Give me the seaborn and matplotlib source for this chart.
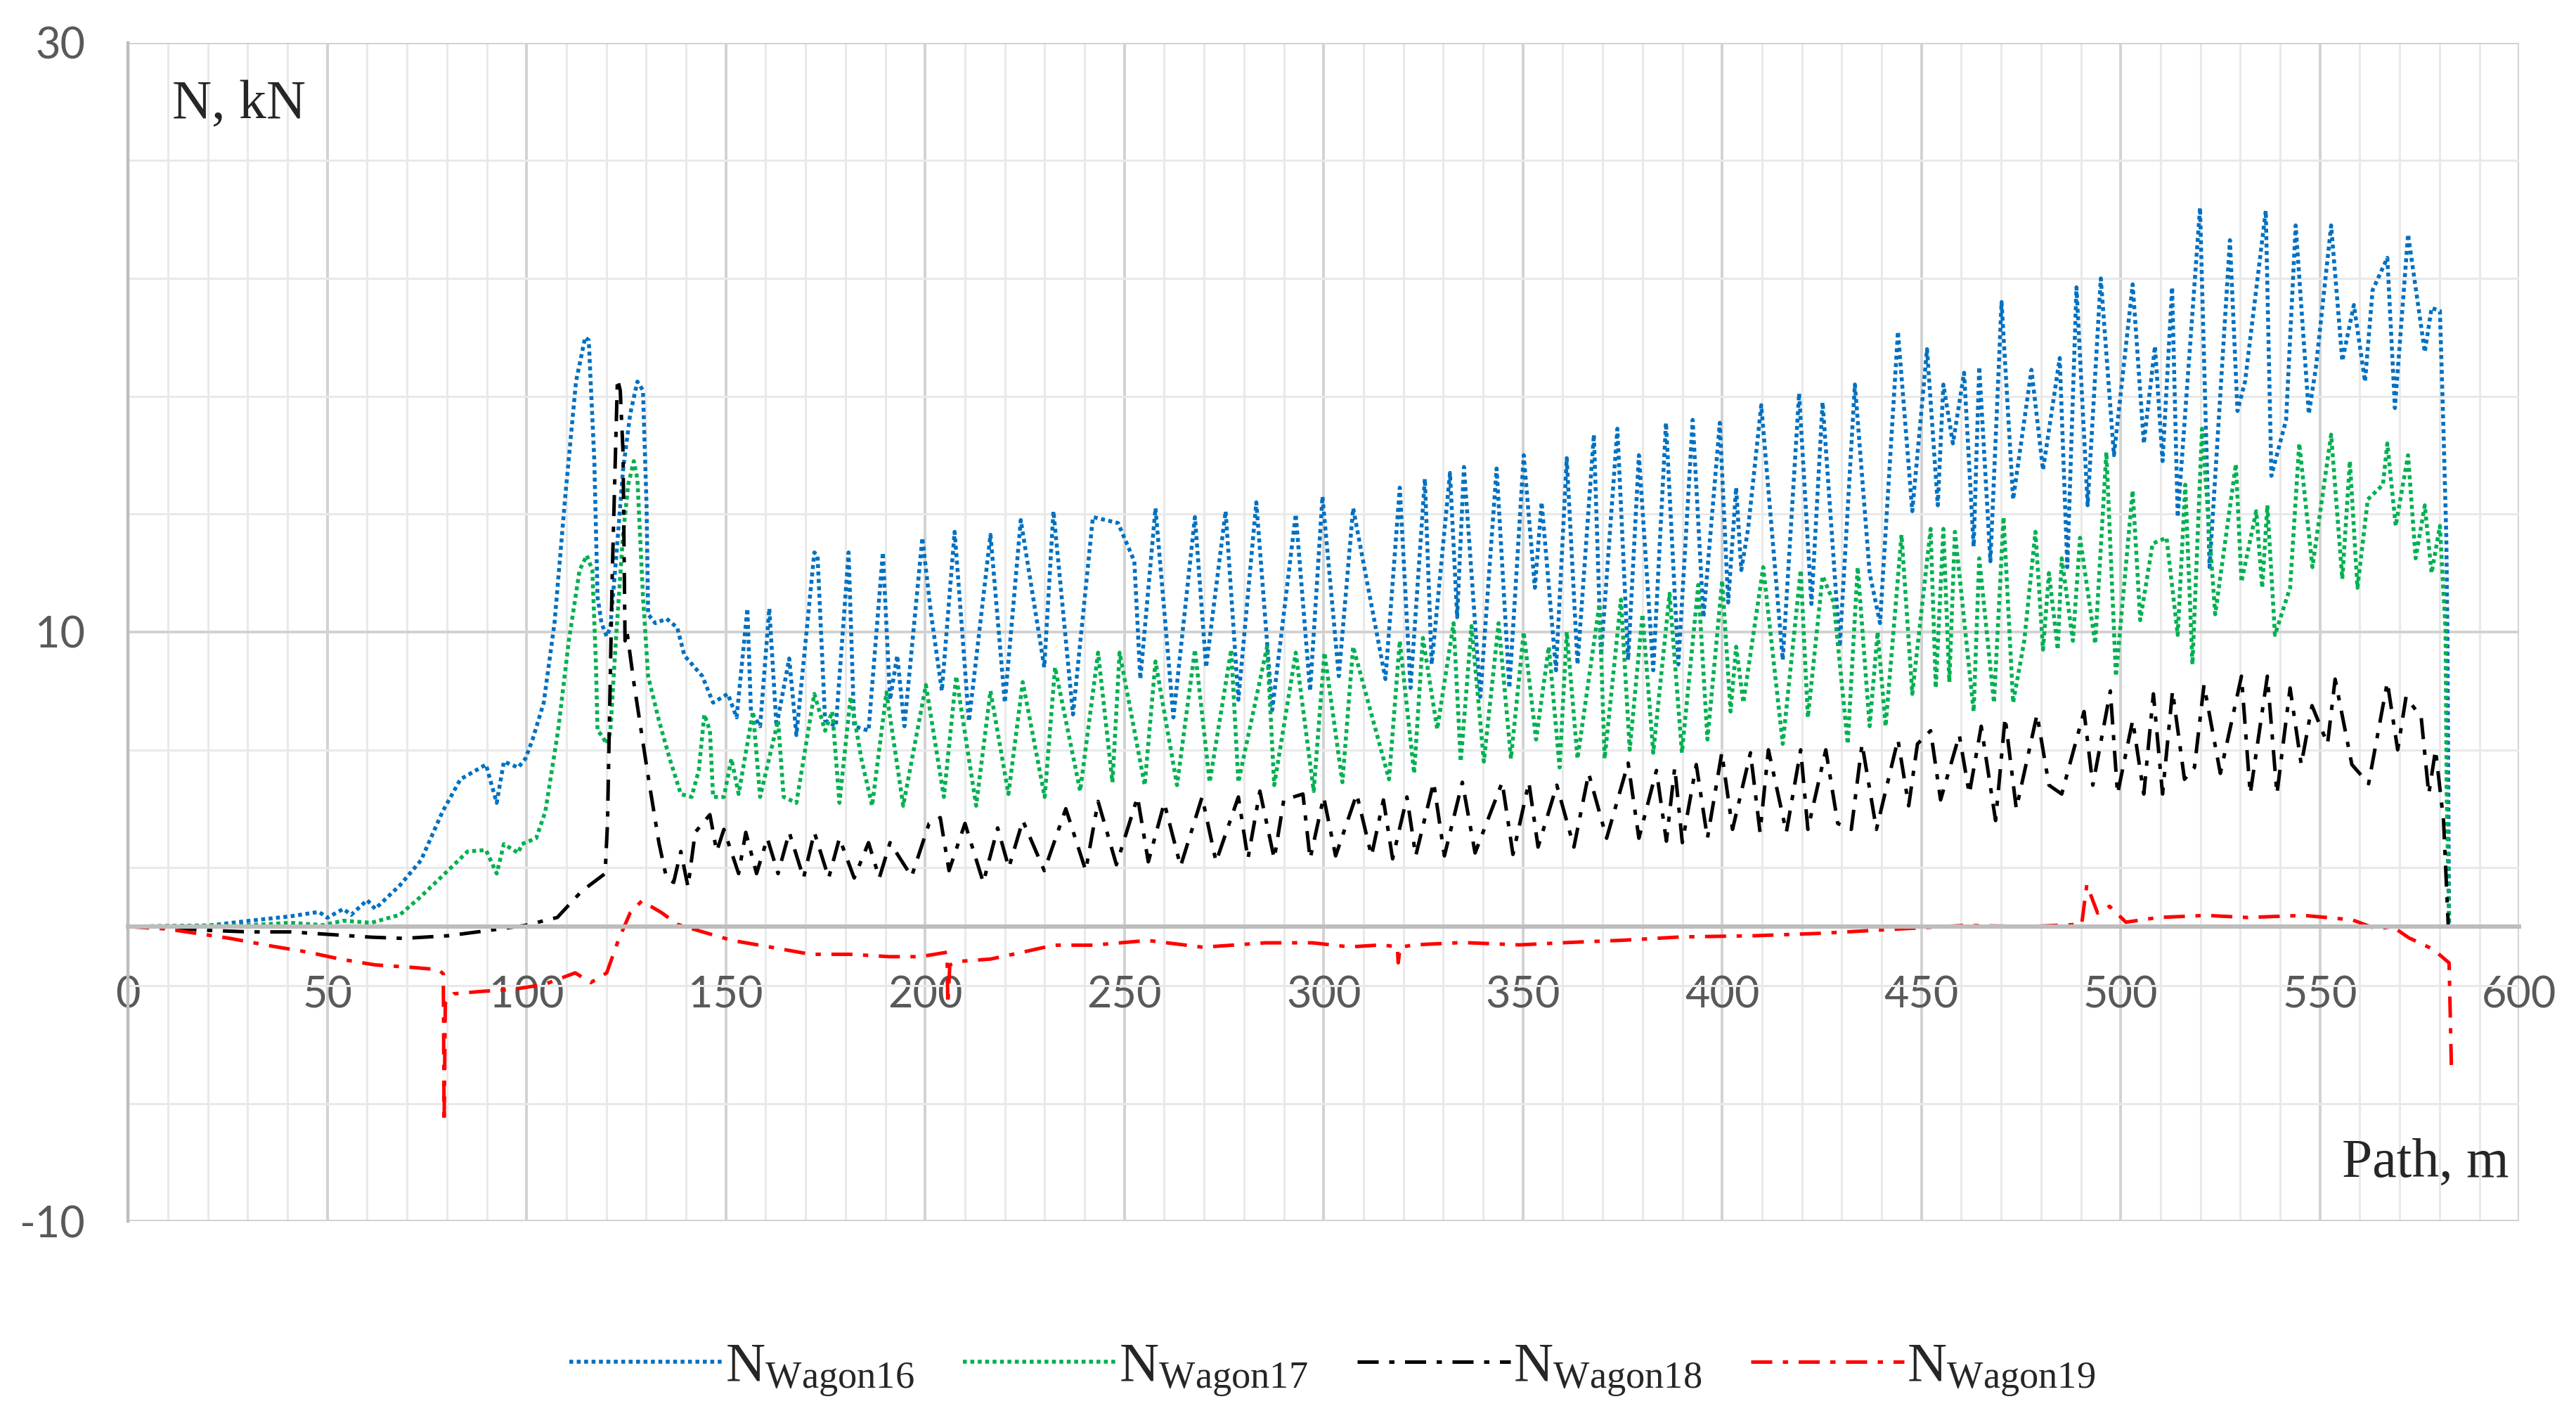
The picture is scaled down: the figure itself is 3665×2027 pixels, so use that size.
import numpy as np
import pandas as pd
import seaborn as sns
import matplotlib.pyplot as plt
from matplotlib.ticker import MultipleLocator, FixedLocator

# values: path (m) and force (kN)
blue_x = [0, 20.5, 30.6, 40.8, 47.9, 50, 54, 56, 60, 62, 68.2, 73.5, 78.9, 83.4, 89.8, 92.5, 94.3, 97.9, 99.7,
          101.5, 104.3, 107, 109.7, 112.4, 114.7, 115.6, 117, 117.8, 118.8, 120.1, 121, 122.4, 124.2, 126, 127.8,
          129.2, 130.1, 130.5, 132.3, 135.1, 137.8, 139.6, 144.1, 146.8, 150.5, 152.7, 155.4, 156.3, 158.6, 160.9,
          162.7, 165.9, 167.7, 172.2, 173.0, 174.9, 177.6, 180.8, 182.2, 185.8, 189.4, 191.2, 193, 194.8, 199.3,
          201.5, 204.2, 207.4, 211, 216.4, 220, 224, 229.9, 232.2, 237.1, 242.1, 248.4, 252.5, 254, 257.8, 262.3,
          267.7, 270.5, 275.4, 278.6, 283.1, 287.1, 293, 296.6, 299.7, 303.8, 307.4, 315.5, 319.1, 321.8, 325.4,
          327.1, 331.7, 333.5, 335.2, 339.3, 343.4, 346.6, 350.2, 353, 354.7, 358.3, 361, 363.7, 367.8, 369.6,
          373.7, 376.4, 379.1, 382.7, 385.9, 389, 392.6, 395.3, 399.4, 401.5, 403.5, 404.8, 406.5, 409.8, 415.2,
          419.3, 422.4, 425.2, 429.5, 433.3, 437, 439.6, 444.1, 447.7, 451.4, 454.1, 455.5, 457.9, 460.7, 463.1,
          464.5, 467.3, 470.1, 473, 477.6, 480.5, 484.7, 486.6, 488.9, 491.7, 495, 498.3, 503, 505.8, 508.6, 510.5,
          512.9, 514.3, 519.9, 522.3, 524.5, 527.4, 529.3, 531.2, 536.4, 537.8, 541.5, 543.9, 547.2, 549, 552.8,
          555.6, 558.5, 561.3, 563.2, 566.9, 568.8, 572.1, 576.3, 578, 580.1, 581, 581.7, 582, 582.4]
blue_y = [0, 0.04, 0.2, 0.35, 0.5, 0.3, 0.6, 0.4, 0.9, 0.6, 1.4, 2.25, 3.9, 5.0, 5.5, 4.2, 5.6, 5.4, 5.7,
          6.35, 7.6, 10.3, 14.6, 18.5, 20.0, 19.9, 15.8, 11.2, 10.3, 9.85, 10.15, 12.4, 15.5, 17.4, 18.5,
          18.2, 14.3, 10.6, 10.3, 10.45, 10.15, 9.2, 8.5, 7.6, 7.9, 7.1, 10.8, 7.3, 6.8, 10.8,
          6.8, 9.1, 6.5, 12.7, 12.6, 7.0, 6.8, 12.7, 6.8, 6.65, 12.7, 7.7, 9.2, 6.8, 13.2,
          10.6, 8.0, 13.4, 6.97, 13.3, 7.6, 13.8, 8.8, 14.1, 7.2, 13.9, 13.7, 12.4, 8.4, 14.2, 7.1,
          13.9, 8.8, 14.1, 7.7, 14.4, 7.35, 14.0, 8.0, 14.6, 8.5, 14.2, 8.4, 14.9, 8.1, 15.2,
          8.9, 15.4, 10.5, 15.6, 7.8, 15.55, 8.1, 16.0, 11.5, 14.4, 8.7, 15.9, 8.9, 16.7, 9.2,
          16.9, 9.05, 16.0, 8.7, 17.1, 8.9, 17.2, 10.5, 17.1, 11.0, 14.9, 12.1, 13.5, 17.7, 9.05,
          18.1, 10.95, 17.8, 9.5, 18.4, 12.0, 10.3, 20.2, 14.1, 19.6, 14.3, 18.4, 16.4, 18.8, 12.9,
          19.0, 12.4, 21.2, 14.5, 18.9, 15.5, 19.3, 12.2, 21.7, 14.3, 22.0, 16.0, 21.8, 16.4, 19.7, 15.8,
          21.7, 13.9, 24.4, 12.2, 17.0, 23.3, 17.5, 18.5, 24.3, 15.3, 17.2, 23.8, 17.4, 19.0, 23.8,
          19.2, 21.1, 18.5, 21.6, 22.7, 17.6, 23.5, 19.5, 21.0, 20.9, 16.8, 13.2, 9.7, 0]

green_x = [0, 30.6, 40.8, 48.9, 54, 61, 68.2, 73.3, 79.5, 85.2, 89.8, 92.5, 94.3, 97.9, 98.8, 102.4, 104.7,
           107.9, 110.6, 113.3, 115.1, 116.5, 117.4, 117.8, 118.8, 120.1, 121, 122.4, 124.2, 125.5, 126.9, 127.8,
           129.2, 130.5, 133.2, 135.9, 138.7, 141.4, 143.2, 144.6, 146, 146.8, 149.5, 151.4, 153.2, 156.8, 158.6,
           163.1, 164.5, 167.7, 172.2, 174.9, 176.7, 178.5, 181.3, 184, 186.7, 190.3, 194.5, 200.2, 204.7, 207.8,
           212.8, 216.4, 220.9, 224.5, 230, 232.6, 238.9, 243.4, 247, 248.8, 255.1, 257.8, 263.2, 267.7, 271.4,
           276.8, 278.6, 285.8, 287.6, 293, 297.5, 300.2, 304.7, 307.4, 316.4, 319.1, 322.7, 324.9, 328.5, 332.6,
           334.4, 337.1, 340.2, 343.9, 347, 350.2, 353.3, 356.5, 359.2, 361, 363.7, 369.2, 370.5, 374.6, 376.8,
           380, 382.7, 386.8, 389.9, 394, 396.3, 400, 402.1, 403.5, 405.3, 410.3, 415.2, 419.7, 421.5, 425.2,
           428, 431.5, 434, 437, 439, 441, 445, 447.7, 452.3, 453.6, 455.5, 457, 458.4, 463.1, 464.5, 468.2,
           470.6, 473, 475.8, 478.6, 480.5, 482, 484.2, 485.2, 488, 489.8, 493.6, 496.4, 498.8, 503, 504.9, 508,
           511.5, 514.3, 516.2, 518, 520.4, 523.7, 528.9, 530.3, 534, 535.5, 536.8, 538.7, 542.5, 544.8, 548.1,
           552.8, 555.6, 557.5, 559.4, 562, 565.8, 566.9, 569, 572.1, 574, 576.3, 578, 580.1, 580.8, 581.5,
           581.8, 582.4]
green_y = [0, 0.05, 0.13, 0.05, 0.2, 0.13, 0.4, 1.0, 1.8, 2.55, 2.6, 1.8, 2.8, 2.5, 2.8, 3.0, 3.9,
           6.65, 9.7, 12.1, 12.6, 12.1, 8.9, 6.65, 6.5, 6.2, 6.6, 9.7, 13.3, 15.0, 15.8, 15.2,
           11.2, 8.5, 7.0, 5.7, 4.5, 4.4, 5.3, 7.2, 6.65, 4.4, 4.4, 5.7, 4.5, 7.3, 4.4,
           7.0, 4.4, 4.2, 7.9, 6.65, 7.3, 4.2, 7.8, 5.7, 4.1, 7.95, 4.1, 8.2, 4.4, 8.5,
           4.1, 8.0, 4.5, 8.3, 4.4, 8.8, 4.6, 9.3, 4.9, 9.3, 4.8, 9.0, 4.8, 9.4, 4.9,
           9.4, 4.9, 9.5, 4.8, 9.3, 4.6, 9.3, 4.9, 9.5, 5.0, 9.7, 5.2, 9.8, 6.7, 10.3,
           5.6, 10.2, 5.6, 10.3, 5.7, 10.0, 6.35, 9.5, 5.4, 10.0, 5.7, 10.95, 5.7, 11.1, 6.0,
           10.6, 5.9, 11.3, 5.9, 11.6, 6.35, 11.75, 7.3, 9.5, 7.6, 12.2, 6.2, 12.1, 7.1, 11.9,
           11.0, 6.2, 12.2, 6.8, 10.0, 6.8, 13.3, 7.9, 13.5, 8.1, 13.5, 8.3, 13.4, 7.3, 12.5, 7.6,
           13.9, 7.6, 9.7, 13.4, 9.4, 12.0, 9.4, 12.5, 9.7, 13.2, 9.6, 16.1, 8.5, 14.8, 10.4, 13.0,
           13.2, 9.9, 15.0, 8.9, 16.9, 10.6, 15.7, 11.7, 14.1, 11.5, 14.3, 9.9, 11.5, 16.4, 12.2,
           16.7, 11.8, 15.8, 11.5, 14.5, 15.0, 16.4, 13.6, 16.0, 12.5, 14.3, 12.0, 13.6, 11.8, 10.1,
           4.5, 0]

black_x = [0, 10.3, 20.5, 30.6, 40.8, 50.9, 61.1, 69.2, 80.3, 90.5, 99.6, 107.7, 113.8, 119.7, 120.3, 121.5,
           122.8, 123.5, 124.2, 124.7, 125.2, 127, 130.5, 133.2, 135.1, 136.9, 138.7, 140.5, 142.3, 146, 147.7,
           149.5, 153.2, 155, 157.7, 160.4, 163.1, 165.9, 169.5, 172.2, 175.8, 178.5, 182.2, 185.8, 188.5, 191.2,
           196.6, 201, 203.8, 206, 210, 214.6, 218.2, 221, 224.5, 229.9, 235.3, 240.3, 243.4, 248, 253.3, 256,
           260, 264.1, 269.5, 273, 278.6, 281, 284, 287.6, 290, 294.8, 296.6, 300, 303, 308.3, 312, 315, 317.3,
           320.9, 323.1, 327.6, 330.3, 334.8, 338, 344.8, 347.5, 351.5, 353.8, 358.5, 362.8, 366.5, 371, 376.4,
           379.1, 383.5, 386, 388.1, 390, 393.5, 396.3, 399.9, 402.6, 407.1, 409.5, 411.6, 416.1, 419.7, 421.5,
           426, 429, 432.4, 435.1, 438.7, 444.1, 446.8, 449, 452.3, 454.8, 459.5, 462, 465, 468.6, 471, 473.8,
           479, 482, 485.2, 490.8, 493, 497.4, 499.2, 503, 505.8, 508.2, 510.5, 513, 516, 518.5, 520.9, 525,
           530.3, 532.5, 536.8, 539.2, 542.5, 545.3, 548, 551.9, 553.8, 558, 562.2, 566.9, 569.5, 571.6, 575.4,
           577.3, 579, 581, 581.7, 582.2]
black_y = [0, -0.04, -0.13, -0.18, -0.18, -0.27, -0.36, -0.4, -0.31, -0.13, 0.04, 0.31, 1.2, 1.8, 3.5, 12.0,
           18.6, 18.2, 16.1, 9.7, 10.0, 8.2, 5.1, 2.85, 1.65, 1.5, 2.55, 1.35, 3.2, 3.8, 2.55,
           3.3, 1.8, 3.2, 1.8, 3.0, 1.8, 3.2, 1.65, 3.2, 1.65, 3.0, 1.65, 2.85, 1.65, 2.85,
           1.7, 3.5, 3.7, 1.9, 3.5, 1.5, 3.35, 2.0, 3.6, 1.9, 4.0, 1.9, 4.25, 2.1, 4.4, 2.2,
           4.2, 2.05, 4.4, 2.2, 4.4, 2.3, 4.6, 2.3, 4.3, 4.5, 2.3, 4.4, 2.4, 4.5, 2.4, 4.3, 2.3,
           4.4, 2.4, 4.9, 2.4, 4.9, 2.5, 4.9, 2.45, 4.9, 2.7, 4.8, 2.7, 5.2, 3.0, 5.55,
           3.0, 5.3, 2.9, 5.4, 2.85, 5.5, 3.0, 5.9, 3.3, 5.9, 3.2, 6.0, 3.2, 6.0, 3.3,
           6.0, 3.5, 3.3, 6.2, 3.3, 6.35, 4.1, 6.2, 6.65, 4.3, 6.5, 4.5, 6.8, 3.6, 7.1, 4.0,
           7.2, 4.8, 4.5, 7.3, 4.8, 8.0, 4.5, 7.0, 4.5, 7.9, 4.5, 8.0, 5.0, 5.4, 8.2, 5.2,
           8.5, 4.5, 8.5, 4.5, 8.1, 5.5, 7.5, 6.2, 8.4, 5.5, 4.85, 8.3, 6.0, 7.8, 7.1,
           4.5, 6.0, 3.6, 1.5, 0]

red_x = [0, 9.8, 15.7, 25.6, 36.4, 45.3, 53.1, 62, 70.9, 77.8, 79.1, 79.3, 79.6, 81.7, 88.6, 96.5, 104.3,
         112.2, 116.1, 120.1, 123, 126, 128.9, 133.9, 137.8, 143.7, 151.6, 161.4, 171.3, 181.1, 191, 198.8,
         205.5, 205.7, 206.2, 208.7, 216.5, 224.4, 232.3, 242.1, 255.9, 269.7, 285.4, 297.2, 306.5, 314.6,
         318.5, 318.7, 319.2, 322.7, 334.9, 349.1, 361.3, 375.5, 389.7, 408, 424.3, 444.5, 460.8, 477, 490.2,
         491.5, 494.2, 497.2, 501.3, 509.4, 521.5, 531.7, 545.9, 558.1, 564.2, 568.2, 572.3, 578.4, 582.4, 583]
red_y = [0, -0.08, -0.2, -0.4, -0.67, -0.87, -1.1, -1.3, -1.38, -1.46, -1.6, -6.66, -2.6, -2.28, -2.2, -2.13, -1.97,
         -1.57, -1.9, -1.57, -0.47, 0.47, 0.87, 0.47, 0.08, -0.16, -0.47, -0.7, -0.94, -0.94, -1.02, -1.02,
         -0.87, -2.65, -1.3, -1.18, -1.1, -0.87, -0.63, -0.63, -0.47, -0.7, -0.55, -0.55, -0.69, -0.62,
         -0.69, -1.23, -0.7, -0.62, -0.54, -0.62, -0.54, -0.46, -0.35, -0.31, -0.23, -0.08, 0.04, 0.0, 0.08,
         1.42, 0.46, 0.69, 0.15, 0.31, 0.38, 0.31, 0.38, 0.23, -0.08, 0, -0.38, -0.77, -1.23, -4.9]

labels = [r'$\mathrm{N_{Wagon16}}$', r'$\mathrm{N_{Wagon17}}$',
          r'$\mathrm{N_{Wagon18}}$', r'$\mathrm{N_{Wagon19}}$']

sns.set_style("white")
plt.rcParams['font.family'] = ['Lato', 'DejaVu Sans']
plt.rcParams['axes.unicode_minus'] = False
plt.rcParams['mathtext.fontset'] = 'custom'
plt.rcParams['mathtext.rm'] = 'Liberation Serif'
plt.rcParams['mathtext.it'] = 'Liberation Serif:italic'

fig = plt.figure(figsize=(18.33, 10.135), dpi=200)
ax = fig.add_axes([0.0497, 0.143, 0.928, 0.827])

dot = (0, (1, 0.9))
dashdot = (0, (6, 3, 1.5, 3))
sns.lineplot(x=blue_x, y=blue_y, color='#0070C0', linestyle=dot, lw=2.0, estimator=None, sort=False, ax=ax)
sns.lineplot(x=green_x, y=green_y, color='#00B050', linestyle=dot, lw=2.0, estimator=None, sort=False, ax=ax)
sns.lineplot(x=black_x, y=black_y, color='black', linestyle=dashdot, lw=1.8, estimator=None, sort=False, ax=ax)
sns.lineplot(x=red_x, y=red_y, color='#FF0000', linestyle=dashdot, lw=1.8, estimator=None, sort=False, ax=ax)

ax.set_xlim(0, 600)
ax.set_ylim(-10, 30)
ax.xaxis.set_major_locator(MultipleLocator(50))
ax.xaxis.set_minor_locator(MultipleLocator(10))
ax.yaxis.set_major_locator(FixedLocator([-10, 10, 30]))
ax.yaxis.set_minor_locator(FixedLocator([-6, -2, 2, 6, 14, 18, 22, 26]))

ax.set_axisbelow(True)
ax.grid(which='major', color='#D2D2D2', lw=1.4)
ax.grid(which='minor', color='#E9E9E9', lw=1.1)

for s in ['top', 'right']:
    ax.spines[s].set_visible(False)
ax.spines['bottom'].set_position(('data', 0))
ax.spines['bottom'].set_color('#BDBDBD')
ax.spines['bottom'].set_linewidth(2.2)
ax.spines['left'].set_color('#BDBDBD')
ax.spines['left'].set_linewidth(1.6)

ax.tick_params(axis='x', which='both', direction='inout', length=10, width=1.3, color='#BDBDBD',
               labelsize=22, labelcolor='#595959', pad=20)
ax.tick_params(axis='y', which='major', direction='out', length=8, width=1.3, color='#BDBDBD',
               labelsize=22, labelcolor='#595959', pad=14)
ax.tick_params(axis='y', which='minor', direction='in', length=5, width=1.3, color='#BDBDBD')
ax.set_xlabel('')
ax.set_ylabel('')

ax.text(11, 27.9, 'N, kN', family='Liberation Serif', fontsize=28, ha='left', va='center')
ax.text(597.5, -8.05, 'Path, m', family='Liberation Serif', fontsize=28, ha='right', va='center')

if ax.get_legend() is not None:
    ax.get_legend().remove()
fig.legend(ax.lines[:4], labels, loc='center', bbox_to_anchor=(0.517, 0.039), ncol=4, frameon=False,
           fontsize=28, handlelength=2.8, handletextpad=0.05, columnspacing=0.9)

fig.savefig('out.png', dpi=200)
